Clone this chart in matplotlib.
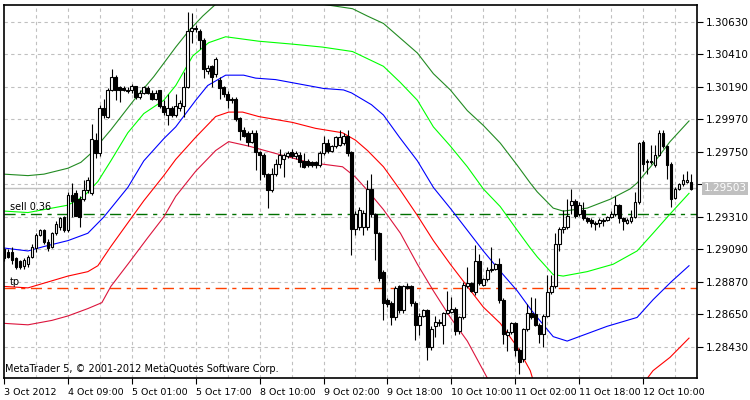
import matplotlib
matplotlib.use("Agg")
import matplotlib.pyplot as plt
import numpy as np

opens = [1.2909,1.2907,1.2907,1.2903,1.2901,1.2898,1.2899,1.2904,1.2910,1.2919,1.2922,1.2914,1.2911,1.2920,1.2924,1.2931,1.2922,1.2946,1.2947,1.2943,1.2943,1.2949,1.2947,1.2983,1.2974,1.3005,1.2999,1.3017,1.3026,1.3019,1.3018,1.3017,1.3017,1.3020,1.3012,1.3015,1.3018,1.3015,1.3011,1.3017,1.3006,1.3000,1.3005,1.3000,1.3005,
 1.3006,1.3019,1.3057,1.3059,1.3057,1.3051,1.3030,1.3033,1.3028,1.3024,1.3019,1.3014,1.3011,1.3011,1.2998,1.2990,1.2988,1.2982,1.2988,1.2975,1.2973,1.2960,1.2949,1.2960,1.2967,1.2970,1.2972,1.2975,1.2972,1.2973,1.2969,1.2969,1.2968,1.2968,1.2966,1.2974,1.2981,1.2976,1.2979,1.2980,1.2981,1.2986,1.2975,1.2923,
 1.2924,1.2924,1.2924,1.2950,1.2933,1.2920,1.2894,1.2875,1.2873,1.2863,1.2884,1.2868,1.2884,1.2884,1.2873,1.2858,1.2864,1.2868,1.2843,1.2857,1.2860,1.2858,1.2866,1.2867,1.2869,1.2854,1.2863,1.2884,1.2886,1.2880,1.2901,1.2885,1.2889,1.2895,1.2896,1.2899,1.2875,1.2851,1.2853,1.2859,1.2841,1.2835,1.2855,
 1.2866,1.2865,1.2858,1.2852,1.2864,1.2880,1.2884,1.2913,1.2923,1.2924,1.2939,1.2942,1.2933,1.2936,1.2930,1.2929,1.2927,1.2927,1.2929,1.2929,1.2931,1.2933,1.2939,1.2930,1.2927,1.2928,1.2931,1.2941,1.2982,1.2968,1.2969,1.2966,1.2973,1.2988,1.2979,1.2967,1.2944,1.2950,1.2953,1.2955,1.2955]
closes = [1.2903,1.2904,1.2902,1.2897,1.2897,1.2902,1.2904,1.2911,1.2919,1.2922,1.2914,1.2910,1.2920,1.2926,1.2930,1.2922,1.2946,1.2942,1.2932,1.2931,1.2949,1.2956,1.2984,1.2974,1.3005,1.3000,1.3017,1.3026,1.3017,1.3017,1.3017,1.3016,1.3020,1.3012,1.3015,1.3019,1.3015,1.3011,1.3015,1.3006,1.3002,1.3005,1.3000,1.3006,1.3008,
 1.3019,1.3057,1.3059,1.3058,1.3051,1.3031,1.3032,1.3026,1.3038,1.3018,1.3014,1.3010,1.3010,1.2997,1.2989,1.2986,1.2982,1.2988,1.2975,1.2973,1.2960,1.2949,1.2960,1.2967,1.2973,1.2973,1.2974,1.2972,1.2974,1.2968,1.2965,1.2966,1.2966,1.2966,1.2974,1.2981,1.2976,1.2979,1.2985,1.2985,1.2986,1.2974,1.2923,1.2933,
 1.2936,1.2934,1.2950,1.2933,1.2920,1.2890,1.2873,1.2872,1.2863,1.2883,1.2868,1.2884,1.2883,1.2873,1.2858,1.2864,1.2868,1.2843,1.2855,1.2860,1.2859,1.2866,1.2868,1.2869,1.2854,1.2863,1.2885,1.2886,1.2881,1.2901,1.2886,1.2889,1.2895,1.2896,1.2899,1.2875,1.2852,1.2853,1.2859,1.2841,1.2833,1.2855,1.2866,
 1.2863,1.2858,1.2852,1.2864,1.2880,1.2884,1.2913,1.2923,1.2924,1.2932,1.2942,1.2932,1.2939,1.2930,1.2928,1.2927,1.2926,1.2929,1.2928,1.2931,1.2933,1.2939,1.2930,1.2928,1.2929,1.2931,1.2941,1.2981,1.2967,1.2969,1.2968,1.2973,1.2988,1.2979,1.2966,1.2943,1.2950,1.2953,1.2956,1.2956,1.2950]
highs = [1.2910,1.2909,1.2911,1.2904,1.2902,1.2903,1.2905,1.2913,1.2920,1.2923,1.2923,1.2916,1.2921,1.2928,1.2931,1.2932,1.2948,1.2954,1.2949,1.2945,1.2956,1.2958,1.2994,1.2988,1.3007,1.3011,1.3018,1.3031,1.3027,1.3020,1.3020,1.3019,1.3021,1.3020,1.3017,1.3020,1.3020,1.3017,1.3017,1.3017,1.3010,1.3014,1.3006,1.3014,1.3010,
 1.3029,1.3070,1.3069,1.3061,1.3058,1.3052,1.3034,1.3034,1.3039,1.3026,1.3020,1.3016,1.3012,1.3012,1.2999,1.2992,1.2989,1.2990,1.2990,1.2976,1.2974,1.2961,1.2964,1.2970,1.2977,1.2974,1.2976,1.2977,1.2976,1.2975,1.2974,1.2970,1.2969,1.2969,1.2976,1.2986,1.2984,1.2980,1.2986,1.2990,1.2988,1.2990,1.2976,1.2935,
 1.2938,1.2936,1.2956,1.2960,1.2934,1.2921,1.2895,1.2876,1.2874,1.2884,1.2885,1.2885,1.2886,1.2885,1.2874,1.2866,1.2869,1.2869,1.2857,1.2864,1.2862,1.2867,1.2881,1.2877,1.2870,1.2864,1.2887,1.2897,1.2887,1.2912,1.2906,1.2890,1.2897,1.2911,1.2900,1.2903,1.2876,1.2855,1.2860,1.2860,1.2842,1.2856,1.2872,
 1.2877,1.2876,1.2859,1.2865,1.2892,1.2892,1.2920,1.2924,1.2936,1.2943,1.2950,1.2943,1.2941,1.2941,1.2931,1.2930,1.2928,1.2930,1.2930,1.2932,1.2935,1.2945,1.2940,1.2931,1.2930,1.2936,1.2948,1.2982,1.2983,1.2970,1.2980,1.2980,1.2990,1.2990,1.2980,1.2968,1.2951,1.2954,1.2960,1.2962,1.2960]
lows = [1.2901,1.2903,1.2899,1.2896,1.2896,1.2896,1.2897,1.2903,1.2907,1.2918,1.2913,1.2908,1.2910,1.2919,1.2922,1.2921,1.2921,1.2931,1.2932,1.2924,1.2942,1.2947,1.2946,1.2971,1.2972,1.2998,1.2998,1.3016,1.3010,1.3009,1.3016,1.3015,1.3015,1.3011,1.3011,1.3014,1.3014,1.3010,1.3010,1.3005,1.3000,1.2993,1.2999,1.2999,1.3003,
 1.2999,1.3018,1.3049,1.3056,1.3045,1.3025,1.3028,1.3019,1.3026,1.3011,1.3012,1.3005,1.3008,1.2996,1.2983,1.2985,1.2979,1.2981,1.2963,1.2956,1.2958,1.2937,1.2948,1.2959,1.2964,1.2958,1.2971,1.2971,1.2970,1.2965,1.2964,1.2965,1.2965,1.2964,1.2965,1.2973,1.2974,1.2975,1.2978,1.2979,1.2980,1.2972,1.2905,1.2919,
 1.2922,1.2919,1.2922,1.2931,1.2902,1.2888,1.2861,1.2870,1.2858,1.2861,1.2866,1.2866,1.2882,1.2871,1.2848,1.2851,1.2863,1.2834,1.2841,1.2850,1.2857,1.2845,1.2865,1.2866,1.2851,1.2852,1.2862,1.2883,1.2880,1.2878,1.2885,1.2884,1.2888,1.2894,1.2895,1.2873,1.2845,1.2840,1.2852,1.2837,1.2825,1.2833,1.2854,
 1.2862,1.2857,1.2846,1.2843,1.2863,1.2879,1.2883,1.2908,1.2920,1.2923,1.2933,1.2930,1.2932,1.2929,1.2927,1.2924,1.2922,1.2924,1.2925,1.2928,1.2930,1.2932,1.2927,1.2922,1.2926,1.2927,1.2930,1.2940,1.2962,1.2960,1.2967,1.2965,1.2972,1.2978,1.2957,1.2938,1.2943,1.2949,1.2952,1.2954,1.2949]

# indicator lines: (bar index, price)
blue_bars = [0,6,10,16,21,25,31,35,40,43,48,51,55.5,60,63,68,76,80,85,87,92,95,99,103.5,107.5,112,116,120,124,128.5,132,133.5,137.5,141,146,151,158.5,162.5,167,171.5]
blue_vals = [1.2910,1.2908,1.2911,1.2915,1.2920,1.2931,1.2951,1.2969,1.2984,1.2992,1.3010,1.3020,1.3027,1.3027,1.3025,1.3024,1.3020,1.3018,1.3017,1.3015,1.3007,1.3000,1.2985,1.2969,1.2951,1.2936,1.2922,1.2908,1.2895,1.2881,1.2868,1.2863,1.2850,1.2847,1.2852,1.2857,1.2863,1.2875,1.2887,1.2898]
lgreen_bars = [0,6,10,16,20,23.5,26.75,31,35,40,43,47.25,51.25,55.5,63.75,72.25,79.75,87.25,95,99.25,103.5,107.5,111.75,116,120,124.25,128.5,131.75,133.5,137.5,140,146,152.5,158.5,162.5,166.75,171.5]
lgreen_vals = [1.2935,1.2934,1.2936,1.2939,1.2945,1.2955,1.2969,1.2988,1.3001,1.3010,1.3020,1.3040,1.3049,1.3053,1.3050,1.3048,1.3046,1.3043,1.3033,1.3022,1.3010,1.2992,1.2979,1.2965,1.2950,1.2938,1.2922,1.2910,1.2904,1.2892,1.2891,1.2894,1.2899,1.2908,1.2920,1.2933,1.2947]
dgreen_bars = [0,6,10,16,19.25,21.75,26.75,32.5,37.5,43,46.25,49.75,53,60,68,79.75,87.25,91,95,99.25,103.5,107.5,111.75,116,120,124.25,128.5,131.75,133.5,137.5,140,146,151.75,156.75,158.5,162.5,166.75,171.5]
dgreen_vals = [1.2960,1.2959,1.2960,1.2964,1.2968,1.2974,1.2990,1.3010,1.3026,1.3046,1.3057,1.3067,1.3075,1.3082,1.3077,1.3075,1.3072,1.3067,1.3062,1.3052,1.3042,1.3028,1.3017,1.3003,1.2993,1.2981,1.2966,1.2954,1.2948,1.2937,1.2935,1.2937,1.2943,1.2950,1.2954,1.2967,1.2982,1.2996]
red_bars = [0,6,11,16,21,23.5,26.75,31,35,40,43,48,53,56.25,59.75,63.75,72.25,78,84.75,88,91,95,99.25,103.5,107.5,111.75,116,120,124.25,128.5,131.75,132.75,147,160,162.5,166.75,171.5]
red_vals = [1.2884,1.2883,1.2887,1.2891,1.2894,1.2898,1.2911,1.2927,1.2942,1.2959,1.2970,1.2985,1.2999,1.3002,1.3002,1.2999,1.2995,1.2991,1.2988,1.2983,1.2976,1.2965,1.2949,1.2932,1.2915,1.2899,1.2884,1.2870,1.2859,1.2843,1.2827,1.2818,1.2806,1.2818,1.2827,1.2836,1.2849]
crim_bars = [0,6,12,16,21,24.5,26.75,31,36,40,43,48,53,56.25,61.25,68,76.25,84.75,88,91,95,99.25,103.5,107.5,111.75,116,121,125]
crim_vals = [1.2859,1.2858,1.2861,1.2864,1.2869,1.2873,1.2884,1.2899,1.2917,1.2931,1.2945,1.2962,1.2976,1.2982,1.2979,1.2974,1.2968,1.2965,1.2958,1.2949,1.2936,1.2920,1.2899,1.2881,1.2863,1.2847,1.2822,1.2815]

sell_level = 1.2933
tp_level = 1.2883
current_price = 1.29503
yticks = [1.30630,1.30410,1.30190,1.29970,1.29750,1.29530,1.29310,1.29090,1.28870,1.28650,1.28430]
xtick_bars = [0,16,32,48,64,80,96,112,128,144,160]
xtick_labels = ["3 Oct 2012","4 Oct 09:00","5 Oct 01:00","5 Oct 17:00","8 Oct 10:00","9 Oct 02:00",
                "9 Oct 18:00","10 Oct 10:00","11 Oct 02:00","11 Oct 18:00","12 Oct 10:00"]

plt.rcParams['font.family'] = ['DejaVu Sans']
fig = plt.figure(figsize=(7.5, 4), dpi=100)
ax = fig.add_axes([4/750, 22/400, 693/750, 373/400])
ax.set_xlim(0.25, 173.5)
ax.set_ylim(1.28220, 1.30745)

grid_kw = dict(color='#c0c0c0', lw=0.8, ls=(0, (3, 3)), zorder=0)
for y in yticks:
    ax.axhline(y, **grid_kw)
for xb in range(8, 174, 8):
    ax.axvline(xb, **grid_kw)

ax.axhline(current_price, color='#c0c0c0', lw=1, zorder=1)
ax.axhline(sell_level, color='#007000', lw=1, ls=(0, (8, 4, 3, 4)), zorder=1)
ax.axhline(tp_level, color='#ff4000', lw=1, ls=(0, (8, 4, 3, 4)), zorder=1)

lw = 0.8
ax.plot(dgreen_bars, dgreen_vals, color='#228b22', lw=lw, zorder=2)
ax.plot(lgreen_bars, lgreen_vals, color='#00ff00', lw=lw, zorder=2)
ax.plot(blue_bars, blue_vals, color='#0000ff', lw=lw, zorder=2)
ax.plot(red_bars, red_vals, color='#ff0000', lw=lw, zorder=2)
ax.plot(crim_bars, crim_vals, color='#dc143c', lw=lw, zorder=2)

o = np.array(opens); c = np.array(closes); h = np.array(highs); l = np.array(lows)
idx = np.arange(len(o))
ax.vlines(idx, l, h, color='black', lw=0.8, zorder=3)
bottom = np.minimum(o, c)
height = np.maximum(np.abs(c - o), 0.00004)
up = c >= o
ax.bar(idx[up], height[up], bottom=bottom[up], width=0.7, color='white', edgecolor='black', lw=0.8, zorder=4)
ax.bar(idx[~up], height[~up], bottom=bottom[~up], width=0.7, color='black', edgecolor='black', lw=0.8, zorder=4)

ax.yaxis.tick_right()
ax.set_yticks(yticks)
ax.set_yticklabels([f"{v:.5f}" if abs(v - 1.2953) > 1e-6 else "" for v in yticks], fontsize=7.5)
ax.tick_params(axis='y', length=4, width=0.8, pad=2, direction='out')
ax.set_xticks(xtick_bars)
ax.set_xticklabels(xtick_labels, fontsize=6.8, ha='left')
ax.tick_params(axis='x', length=4, width=0.8, pad=3, direction='out')
for sp in ax.spines.values():
    sp.set_linewidth(1.2)

ax.text(1.01, current_price, f"{current_price:.5f}", transform=ax.get_yaxis_transform(),
        fontsize=7.5, color='white', va='center', ha='left',
        bbox=dict(boxstyle='square,pad=0.15', fc='#c0c0c0', ec='none'), zorder=10, clip_on=False)
ax.text(1.5, sell_level + 0.00012, "sell 0.36", fontsize=7, va='bottom', ha='left')
ax.text(1.5, tp_level + 0.00005, "tp", fontsize=7, va='bottom', ha='left')
ax.text(0.002, 0.012, "MetaTrader 5, © 2001-2012 MetaQuotes Software Corp.", transform=ax.transAxes,
        fontsize=7, va='bottom', ha='left')

fig.savefig("out.png", dpi=100)
